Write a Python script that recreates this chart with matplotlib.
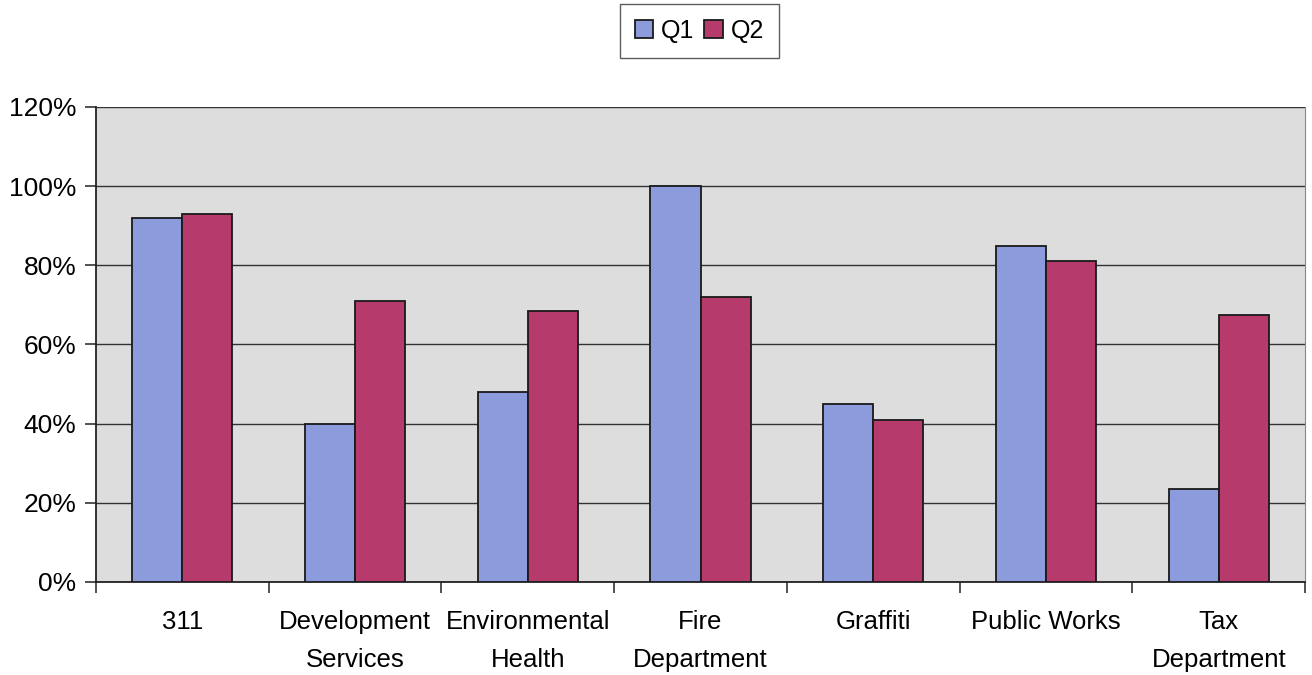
import matplotlib
matplotlib.use("Agg")
from matplotlib import pyplot as plt
from matplotlib.ticker import FuncFormatter
import numpy as np

plt.rcParams['font.family'] = ['Liberation Sans', 'DejaVu Sans']

categories = ['311', 'Development\nServices', 'Environmental\nHealth', 'Fire\nDepartment',
              'Graffiti', 'Public Works', 'Tax\nDepartment']
q1 = [0.92, 0.40, 0.48, 1.00, 0.45, 0.85, 0.235]
q2 = [0.93, 0.71, 0.685, 0.72, 0.41, 0.81, 0.675]

fig = plt.figure(figsize=(13.12, 6.75), dpi=100)
ax = fig.add_axes([0.0732, 0.1378, 0.9215, 0.7037])
ax.set_facecolor('#dddddd')

x = np.arange(len(categories))
w = 0.29
ax.bar(x - w/2, q1, w, color='#8c9bdb', edgecolor='#1a1a1a', linewidth=1.3, label='Q1', zorder=3)
ax.bar(x + w/2, q2, w, color='#b63a6c', edgecolor='#1a1a1a', linewidth=1.3, label='Q2', zorder=3)

ax.set_xlim(-0.5, len(categories) - 0.5)
ax.set_ylim(0, 1.2)
ax.set_yticks(np.arange(0, 1.21, 0.2))
ax.yaxis.set_major_formatter(FuncFormatter(lambda v, p: f'{v*100:.0f}%'))
ax.grid(axis='y', color='#333333', linewidth=1.0, zorder=1)

# labels sit in the middle, tick marks between groups
ax.set_xticks(np.arange(-0.5, len(categories), 1.0))
ax.set_xticklabels([])
ax.set_xticks(x, minor=True)
ax.set_xticklabels(categories, minor=True, linespacing=1.75)
ax.tick_params(axis='x', which='major', length=8, width=1.2, color='#333333', direction='out')
ax.tick_params(axis='x', which='minor', length=0, pad=20, labelsize=18.5)
ax.tick_params(axis='y', length=8, width=1.2, color='#333333', labelsize=19, pad=6)

for s in ['left', 'bottom']:
    ax.spines[s].set_color('#222222')
    ax.spines[s].set_linewidth(1.3)
ax.spines['right'].set_color('#888888')
ax.spines['top'].set_visible(False)

fig.legend(loc='center', bbox_to_anchor=(0.533, 0.954), ncol=2, fontsize=18,
           frameon=True, fancybox=False, edgecolor='#333333', handlelength=0.75,
           handleheight=0.75, handletextpad=0.3, columnspacing=0.4, borderpad=0.6,
           borderaxespad=0.3)

plt.savefig('out.png', dpi=100, facecolor='white')
